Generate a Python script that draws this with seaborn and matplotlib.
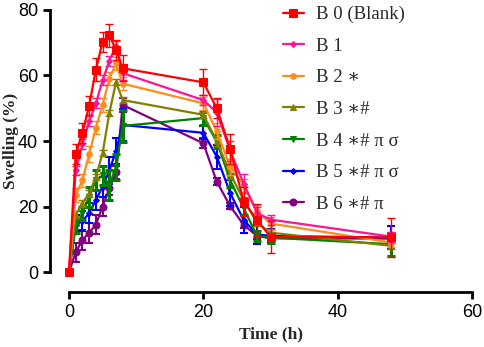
import numpy as np
import pandas as pd
import matplotlib.pyplot as plt
import seaborn as sns

# time points (h)
times = [0, 1, 2, 3, 4, 5, 6, 7, 8, 20, 22, 24, 26, 28, 30, 48]

# swelling (%) mean values
b0 = [0, 36, 42.5, 50.8, 61.8, 70.3, 72.3, 67.8, 62.2, 57.9, 50, 37.6, 21.5, 15.9, 10.7, 10.6]
b1 = [0, 31, 39, 46, 51.5, 58.5, 64.5, 69, 60.7, 52.5, 48.7, 37, 27, 18, 16, 10.8]
b2 = [0, 23.5, 28, 36, 44, 51, 59, 63.7, 57.5, 51.5, 43, 32, 26.5, 18.5, 14.8, 9]
b3 = [0, 17.5, 21, 24, 29, 36.3, 48.5, 58, 52.5, 48, 40, 30, 22, 15, 12, 8]
b4 = [0, 14, 18, 23, 28, 29.5, 26.5, 32, 44.6, 47, 39.8, 28, 19.5, 11, 10.5, 8.5]
b5 = [0, 14.5, 15.5, 18, 22, 26, 31, 37, 44.9, 42.5, 35.2, 24.1, 15.9, 11.5, 11, 10.5]
b6 = [0, 6, 9.8, 12, 14.5, 20, 25.5, 30.5, 51, 39.3, 27.6, 20.1, 14.4, 11, 10.3, 10.2]

# error bars (sd)
b0_sd = [0, 3, 3, 3, 3.5, 3, 3.5, 3, 4, 4, 3, 4.5, 4.5, 5, 5, 6]
b1_sd = [0, 1.5, 1.5, 1.5, 1.5, 1.5, 1.5, 1.5, 2, 1.5, 4, 3, 3, 2, 1.5, 1.5]
b2_sd = [0, 2, 2, 2.5, 2, 2, 2, 2, 2, 2, 2.5, 2.5, 2, 2, 2, 1.5]
b3_sd = [0, 1, 1, 1, 1, 1, 1, 1, 1, 1, 1.5, 1.5, 1, 1, 1, 1]
b4_sd = [0, 2, 2, 3, 3, 3, 4.5, 4, 5, 2, 2, 2, 2, 1.5, 1.5, 3.5]
b5_sd = [0, 3, 3, 3, 3, 3, 4, 4, 5, 2, 3.6, 4, 4, 3, 2, 3.5]
b6_sd = [0, 3, 3, 3, 3, 3, 2, 2, 2, 1.5, 1, 1, 1, 1, 1, 1]

labels = ["B 0 (Blank)", "B 1", "B 2 \u2217", "B 3 \u2217#", "B 4 \u2217# \u03c0 \u03c3",
          "B 5 \u2217# \u03c0 \u03c3", "B 6 \u2217# \u03c0"]
means = [b0, b1, b2, b3, b4, b5, b6]
sds = [b0_sd, b1_sd, b2_sd, b3_sd, b4_sd, b5_sd, b6_sd]
colors = ["#ff0000", "#ff1493", "#ff8c1a", "#808000", "#008000", "#0000ff", "#800080"]
markers = ["s", "D", "o", "^", "v", "D", "o"]
msizes = [6, 3, 4, 5, 5, 3, 5]
ewidths = [1, 1, 1, 1, 2.2, 1.5, 1.5]

sns.set_style("ticks")
plt.rcParams['font.family'] = ['Liberation Sans', 'DejaVu Sans']

fig, ax = plt.subplots(figsize=(4.84, 3.47), dpi=100)
fig.subplots_adjust(left=0.1426, right=0.9752, bottom=0.2161, top=0.9712)

for i in reversed(range(7)):
    df = pd.DataFrame({"time": times, "swelling": means[i]})
    sns.lineplot(data=df, x="time", y="swelling", color=colors[i], marker=markers[i],
                 markersize=msizes[i], markeredgecolor=colors[i], linewidth=1.6,
                 ax=ax, label=labels[i], clip_on=False, zorder=10 - i)
    ax.errorbar(times, means[i], yerr=sds[i], fmt="none", ecolor=colors[i],
                elinewidth=ewidths[i], capsize=3, capthick=ewidths[i],
                clip_on=False, zorder=10 - i)

h, l = ax.get_legend_handles_labels()
lookup = dict(zip(l, h))
ax.legend([lookup[lab] for lab in labels], labels, loc="upper left",
          bbox_to_anchor=(283 / 484, 1 - 6 / 347), bbox_transform=fig.transFigure,
          frameon=False, borderpad=0, borderaxespad=0, handlelength=1.1,
          handletextpad=0.65, labelspacing=0.77,
          prop={"family": ["Liberation Serif", "DejaVu Serif"], "size": 13.5})

ax.set_xlim(0, 60)
ax.set_ylim(0, 80)
ax.set_xticks([0, 20, 40, 60])
ax.set_yticks([0, 20, 40, 60, 80])
ax.tick_params(axis="both", direction="out", length=5, width=2, labelsize=13,
               colors="black")
for t in ax.get_xticklabels() + ax.get_yticklabels():
    t.set_fontweight("bold")
    t.set_color("#222222")

sns.despine(ax=ax)
ax.spines["left"].set_position(("outward", 13.7))
ax.spines["bottom"].set_position(("outward", 14.4))
for s in ["left", "bottom"]:
    ax.spines[s].set_linewidth(2)
    ax.spines[s].set_color("black")

ax.set_xlabel("Time (h)", fontsize=12.5, fontweight="bold",
              family=["Liberation Serif", "DejaVu Serif"], labelpad=4)
ax.set_ylabel("Swelling (%)", fontsize=12.5, fontweight="bold",
              family=["Liberation Serif", "DejaVu Serif"])
ax.yaxis.set_label_coords(-0.124, 0.5)

fig.savefig("out.png", dpi=100)
